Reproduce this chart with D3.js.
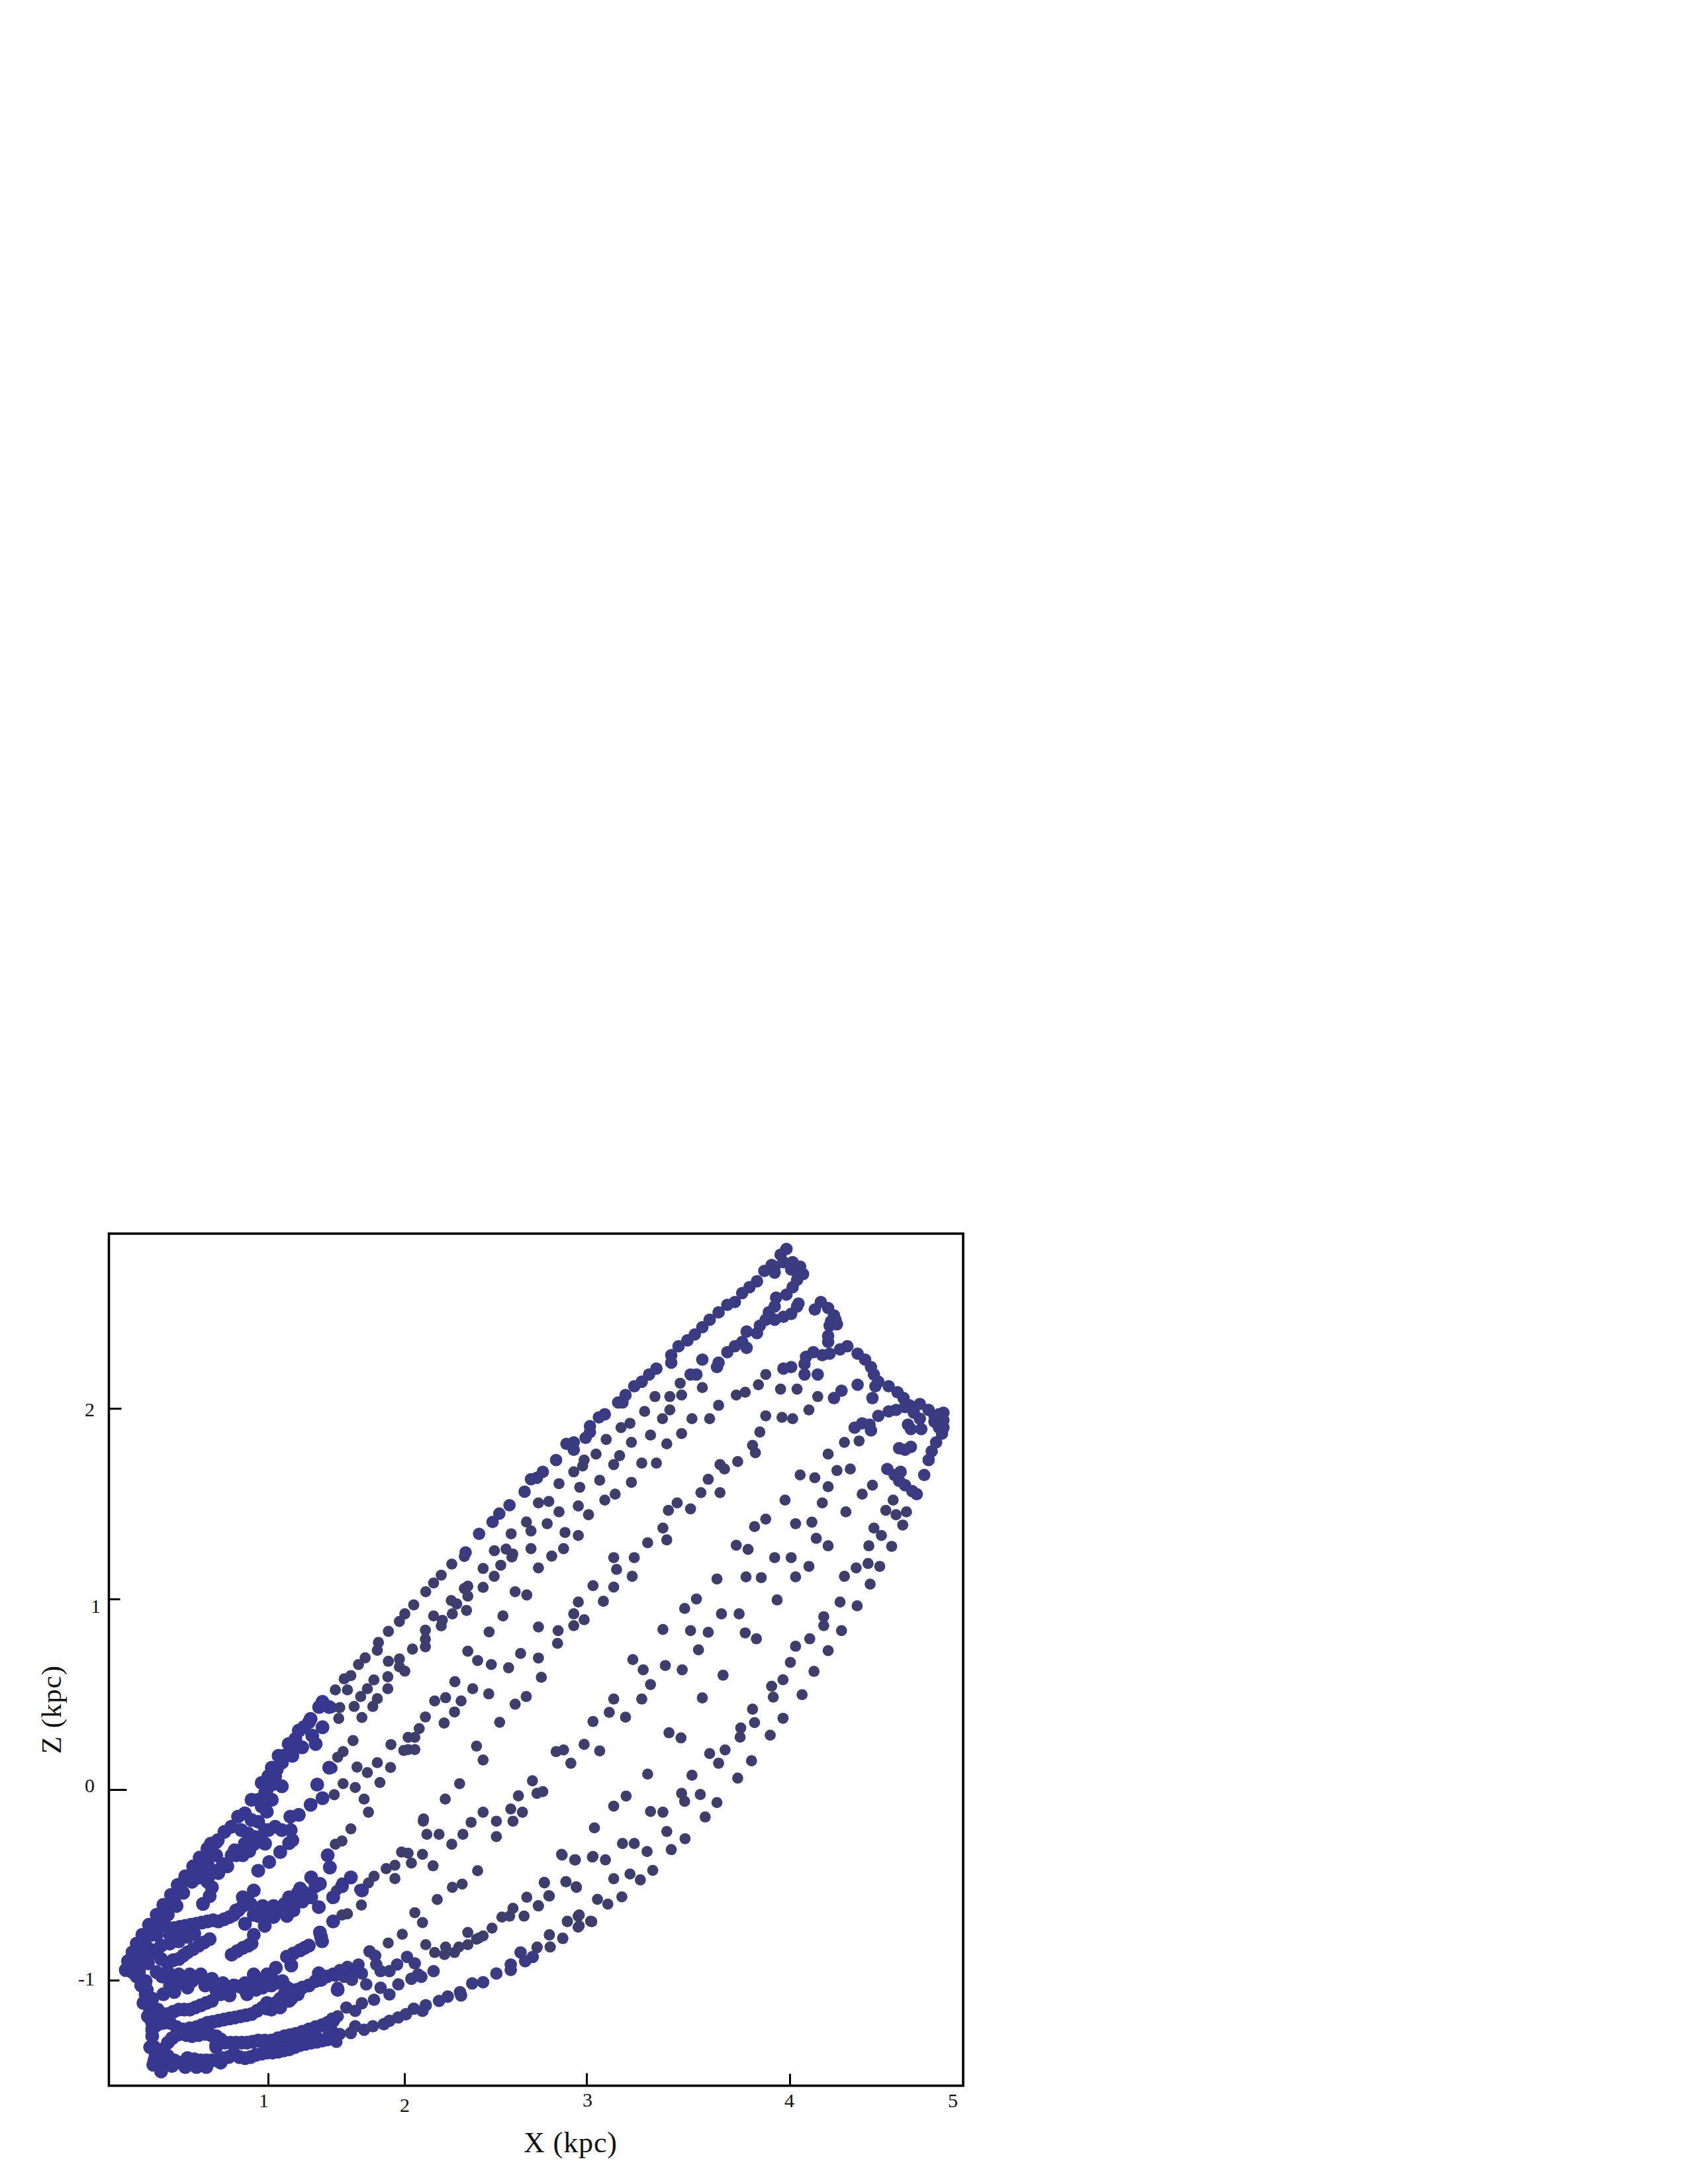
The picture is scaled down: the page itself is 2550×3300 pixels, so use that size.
<!DOCTYPE html>
<html><head><meta charset="utf-8">
<style>html,body{margin:0;padding:0;background:#fff}svg{display:block}text{font-family:"Liberation Serif",serif;fill:#111}</style>
<script src="https://cdn.jsdelivr.net/npm/d3@7"></script></head>
<body><svg id="c" width="2550" height="3300"></svg>
<script>
// ---- data: X and Z in kpc ----
const xKnots=[0,1,2,3,4,5,5.065];
const xTicks=[1,2,3,4,5];
const zTicks=[2,1,0,-1];
const xTitle="X (kpc)", zTitle="Z (kpc)";

const upperEdge=[[3.984,2.837],[3.955,2.806],[3.911,2.752],[3.875,2.721],[3.839,2.667],[3.802,2.636],[3.766,2.605],[3.730,2.558],[3.693,2.543],[3.650,2.504],[3.606,2.465],[3.570,2.426],[3.533,2.388],[3.497,2.357],[3.453,2.326],[3.417,2.279],[3.417,2.240],[3.344,2.209],[3.308,2.178],[3.272,2.140],[3.235,2.116],[3.192,2.070],[3.156,2.031],[3.177,2.031],[3.090,1.969],[3.061,1.953],[3.017,1.907],[3.017,1.876],[2.995,1.845],[2.930,1.822],[2.890,1.814],[2.930,1.783],[2.833,1.729],[2.760,1.667],[2.728,1.636],[2.695,1.628],[2.660,1.563],[2.577,1.492],[2.521,1.448],[2.484,1.404],[2.410,1.342],[2.336,1.244]];
const hookOne=[[3.926,2.744],[3.969,2.767],[4.018,2.767],[4.064,2.744],[4.082,2.705],[4.045,2.674],[4.018,2.636],[3.984,2.597],[3.933,2.581],[3.926,2.535],[3.897,2.504],[3.882,2.465],[3.926,2.465],[3.969,2.481],[4.009,2.496],[4.045,2.535],[4.054,2.550],[3.853,2.434],[3.839,2.395],[3.788,2.403],[3.766,2.349],[3.788,2.318],[3.730,2.326],[3.693,2.295],[3.650,2.240],[3.642,2.217],[3.570,2.256],[3.541,2.178],[3.512,2.178],[4.009,2.729],[4.045,2.713],[3.926,2.713]];
const hookTwo=[[4.191,2.558],[4.154,2.519],[4.236,2.527],[4.272,2.488],[4.290,2.442],[4.245,2.434],[4.236,2.380],[4.236,2.349],[4.354,2.326],[4.309,2.310],[4.245,2.287],[4.200,2.279],[4.145,2.295],[4.100,2.271],[4.091,2.233],[4.091,2.178],[4.172,2.178],[4.009,2.217],[3.969,2.209],[4.254,2.457],[4.281,2.465]];
const hookThree=[[4.417,2.287],[4.463,2.256],[4.499,2.217],[4.517,2.178],[4.526,2.116],[4.508,2.054],[4.544,2.140],[4.608,2.116],[4.662,2.085],[4.699,2.054],[4.735,2.016],[4.799,2.023],[4.853,1.992],[4.917,1.969],[4.944,1.938],[4.917,1.899],[4.935,1.868],[4.899,1.822],[4.872,1.775],[4.853,1.729],[4.826,1.651],[4.889,1.930],[4.944,1.977],[4.917,1.930],[4.653,1.992],[4.608,1.984],[4.708,2.008],[4.762,1.977],[4.726,1.915],[4.799,1.946],[4.808,1.891],[4.744,1.891],[4.708,1.783],[4.672,1.791],[4.744,1.798],[4.544,1.961],[4.490,1.915],[4.445,1.922],[4.399,1.899],[4.499,1.884],[4.417,2.124],[4.318,2.093],[4.272,2.054],[4.599,1.682],[4.644,1.651],[4.672,1.620],[4.708,1.597],[4.753,1.566],[4.780,1.550],[4.681,1.667],[4.889,1.961],[4.944,1.899]];
const rightCloud=[[4.336,1.822],[4.426,1.829],[4.236,1.760],[4.290,1.674],[4.372,1.682],[4.154,1.636],[4.064,1.651],[4.236,1.589],[4.200,1.504],[3.977,1.519],[4.345,1.457],[4.508,1.597],[4.445,1.550],[4.635,1.519],[4.590,1.465],[4.653,1.442],[4.717,1.457],[4.694,1.388],[4.517,1.372],[4.563,1.333],[4.486,1.279],[4.626,1.276],[4.408,1.163],[4.481,1.186],[4.553,1.171],[4.336,1.119],[4.494,1.078],[4.309,0.984],[4.414,0.964],[4.209,0.907],[4.209,0.860],[4.318,0.834],[4.123,0.791],[4.036,0.752],[4.236,0.729],[4.004,0.667],[4.149,0.620]];
const midChain=[[4.172,2.062],[4.118,1.992],[4.045,2.101],[3.955,2.101],[4.018,1.946],[3.962,1.953],[3.882,1.961],[3.853,1.876],[3.817,1.806],[3.831,1.767],[3.744,1.721],[3.657,1.705],[3.679,1.682],[3.599,1.628],[3.563,1.558],[3.657,1.558],[3.512,1.473],[3.446,1.504],[3.403,1.465],[3.376,1.372],[3.395,1.310],[3.301,1.295],[3.235,1.217],[3.134,1.217],[3.148,1.155],[3.225,1.119],[3.032,1.070],[3.134,1.062],[2.955,0.984],[3.083,0.988],[2.930,0.922],[2.987,0.891],[2.930,0.860],[2.736,0.853],[2.844,0.834],[2.841,0.767],[2.736,0.690],[2.752,0.589]];
const upperCloud=[[3.882,2.178],[3.846,2.124],[3.781,2.085],[3.737,2.070],[3.650,2.016],[3.606,1.946],[3.519,1.946],[3.468,1.868],[3.395,1.814],[3.410,1.992],[3.374,1.946],[3.315,1.860],[3.272,1.713],[3.344,1.713],[3.221,1.612],[3.141,1.550],[3.090,1.519],[3.286,1.984],[3.337,2.062],[3.410,2.062],[3.468,2.070],[3.570,2.109],[3.461,2.132],[3.214,1.922],[3.170,1.899],[3.097,1.837],[3.221,1.822],[3.047,1.760],[3.163,1.752],[3.134,1.705],[2.987,1.729],[2.979,1.698],[2.930,1.667],[3.065,1.623],[2.963,1.586],[2.849,1.605],[2.793,1.512],[2.736,1.504],[2.849,1.457],[2.955,1.488],[3.010,1.442],[2.784,1.395],[2.882,1.349],[2.955,1.333],[2.695,1.357],[2.874,1.264],[2.809,1.225],[2.695,1.264],[2.736,1.163],[2.670,1.404],[2.586,1.342],[2.494,1.253],[2.558,1.262],[2.595,1.236]];
const lowerCloudA=[[3.882,1.419],[3.827,1.380],[4.036,1.395],[4.136,1.403],[4.163,1.318],[4.236,1.279],[3.737,1.282],[3.795,1.260],[3.926,1.217],[4.009,1.217],[4.118,1.171],[4.036,1.116],[3.785,1.116],[3.860,1.112],[3.642,1.105],[3.541,1.000],[3.483,0.950],[3.938,0.995],[3.664,0.922],[3.751,0.922],[3.376,0.840],[3.512,0.834],[3.599,0.825],[3.781,0.822],[3.836,0.791],[3.551,0.733],[3.228,0.682],[3.279,0.628],[3.388,0.651],[3.471,0.628],[3.672,0.600]];
const lowerCloudB=[[3.315,0.551],[3.272,0.475],[3.134,0.475],[3.112,0.405],[3.192,0.380],[3.032,0.357],[3.570,0.481],[3.406,0.298],[3.465,0.271],[2.987,0.237],[3.065,0.203],[2.833,0.199],[2.874,0.208],[2.914,0.138],[2.703,0.046],[2.760,-0.011],[2.728,-0.020],[3.817,0.422],[3.827,0.351],[3.759,0.323],[3.756,0.275],[3.904,0.285],[3.967,0.374],[4.076,0.498],[3.911,0.542],[3.919,0.485],[3.967,0.576],[3.682,0.208],[3.606,0.189],[3.650,0.138],[3.812,0.151],[3.744,0.060],[3.519,0.075],[3.301,0.081],[3.195,-0.034],[3.134,-0.087],[3.315,-0.115],[3.376,-0.119],[3.468,-0.020],[3.483,-0.062],[3.560,-0.026],[3.642,-0.068],[3.584,-0.144],[3.039,-0.201],[3.395,-0.220],[3.485,-0.258],[3.417,-0.315],[3.177,-0.283],[3.235,-0.283],[3.298,-0.325],[2.866,-0.344],[2.939,-0.369],[3.029,-0.354],[3.093,-0.369],[3.326,-0.424],[3.214,-0.443],[3.265,-0.474],[3.134,-0.468],[2.768,-0.487],[2.887,-0.483],[2.943,-0.510],[2.793,-0.557],[2.736,-0.611],[3.174,-0.563],[3.054,-0.576],[3.105,-0.601],[2.895,-0.691],[2.960,-0.658],[2.960,-0.715],[3.020,-0.691],[2.796,-0.763],[2.870,-0.782],[2.801,-0.826],[2.728,-0.830],[2.703,-0.877]];
const centreCloud=[[2.260,1.183],[2.329,1.223],[2.202,1.125],[2.160,1.084],[2.117,1.038],[2.051,0.969],[2.002,0.922],[1.963,0.882],[1.882,0.830],[1.809,0.772],[1.801,0.731],[1.712,0.691],[1.663,0.656],[1.607,0.598],[1.558,0.581],[1.493,0.523],[1.582,0.523],[2.432,1.160],[2.529,1.177],[2.493,1.119],[2.590,1.220],[2.348,1.067],[2.432,1.061],[2.329,1.055],[2.348,1.015],[2.608,1.038],[2.672,1.021],[2.257,0.992],[2.287,0.974],[2.341,0.940],[2.263,0.922],[2.160,0.911],[2.208,0.888],[2.202,0.859],[2.115,0.836],[2.115,0.789],[2.115,0.749],[2.044,0.737],[1.882,0.673],[1.963,0.685],[1.963,0.644],[2.002,0.621],[2.541,0.911],[2.465,0.827],[2.348,0.726],[2.402,0.677],[2.477,0.656],[2.572,0.639],[2.638,0.714],[1.776,0.575],[1.878,0.592],[1.878,0.529],[1.728,0.529],[1.679,0.488],[1.801,0.477],[1.768,0.436],[1.631,0.436],[1.526,0.430],[1.469,0.430],[1.518,0.373],[1.688,0.378],[2.277,0.566],[2.375,0.529],[2.463,0.502],[2.669,0.488],[2.608,0.448],[2.311,0.465],[2.226,0.482],[2.166,0.465],[2.275,0.407],[2.115,0.381],[2.081,0.320],[2.218,0.349],[2.523,0.353],[2.020,0.274],[2.057,0.274],[2.020,0.210],[2.057,0.210],[1.995,0.205],[1.901,0.236],[2.396,0.228],[2.432,0.155],[1.623,0.257],[1.550,0.199],[1.510,0.170],[1.469,0.112],[1.652,0.118],[1.728,0.089],[1.801,0.141],[1.898,0.116],[1.820,0.037],[1.550,0.031],[1.639,0.011],[1.485,-0.027],[1.704,-0.050],[1.736,-0.119],[2.303,0.031],[2.224,-0.050],[2.626,-0.033],[2.584,-0.102],[2.648,-0.119],[2.432,-0.119],[2.105,-0.154]];
const lowerStreaks=[[2.103,-0.166],[2.505,-0.166],[2.596,-0.166],[2.366,-0.172],[1.607,-0.206],[2.123,-0.235],[2.190,-0.235],[2.321,-0.235],[2.505,-0.247],[2.260,-0.287],[1.542,-0.270],[1.493,-0.287],[1.979,-0.328],[2.020,-0.334],[2.099,-0.340],[2.038,-0.386],[2.157,-0.400],[1.930,-0.397],[1.866,-0.415],[1.777,-0.455],[1.930,-0.467],[1.736,-0.490],[1.671,-0.525],[1.607,-0.461],[1.542,-0.490],[1.501,-0.531],[1.469,-0.565],[1.684,-0.606],[1.582,-0.652],[1.542,-0.658],[1.485,-0.693],[2.402,-0.426],[2.317,-0.496],[2.263,-0.513],[2.180,-0.577],[2.057,-0.646],[2.099,-0.698],[1.984,-0.759],[1.881,-0.805],[2.348,-0.750],[2.481,-0.727],[2.432,-0.768],[2.396,-0.785],[2.535,-0.669],[2.578,-0.664],[2.596,-0.623],[2.657,-0.664],[2.672,-0.565],[2.735,-0.609],[2.796,-0.559],[2.769,-0.490],[2.887,-0.484],[2.945,-0.513],[2.863,-0.340],[2.935,-0.369],[3.032,-0.351],[2.117,-0.814],[2.166,-0.855],[2.220,-0.866],[2.275,-0.855],[2.226,-0.826],[2.299,-0.826],[2.348,-0.814],[2.408,-0.779],[2.895,-0.693],[2.954,-0.664],[2.954,-0.722],[3.026,-0.693],[2.796,-0.762],[2.869,-0.779],[2.800,-0.826],[2.729,-0.826]];
const lowerEdge=[[2.705,-0.878],[2.638,-0.855],[2.663,-0.901],[2.584,-0.918],[2.584,-0.947],[2.505,-0.965],[2.432,-1.011],[2.372,-1.017],[2.305,-1.063],[2.311,-1.080],[2.238,-1.086],[2.190,-1.109],[2.117,-1.132],[2.099,-1.161],[2.051,-1.150],[2.008,-1.179],[1.954,-1.196],[1.890,-1.213],[1.849,-1.231],[1.768,-1.242],[1.704,-1.260],[1.639,-1.242],[1.607,-1.277],[1.526,-1.283],[1.485,-1.300],[1.501,-1.323],[1.469,-1.265]];
const crossStreak=[[1.744,-0.849],[1.785,-0.872],[1.793,-0.918],[1.825,-0.953],[1.890,-0.953],[1.946,-0.918],[2.014,-0.878],[2.057,-0.912],[2.075,-0.970],[2.038,-0.993],[2.093,-0.982],[2.160,-0.953],[1.955,-1.022],[1.663,-0.918],[1.582,-0.930],[1.526,-0.947],[1.623,-0.965],[1.688,-0.965],[1.493,-0.976],[1.558,-0.982],[1.720,-1.022],[1.615,-0.999],[1.510,-1.040],[1.825,-1.040],[1.890,-1.075],[1.777,-1.103],[1.688,-1.121],[1.574,-1.144],[1.639,-1.161],[1.510,-1.190],[1.469,-1.202]];
const fanEdge=[[0.106,-0.947],[0.120,-0.900],[0.148,-0.854],[0.175,-0.808],[0.210,-0.762],[0.252,-0.709],[0.300,-0.657],[0.342,-0.605],[0.390,-0.553],[0.432,-0.501],[0.480,-0.455],[0.529,-0.403],[0.570,-0.357],[0.619,-0.310],[0.674,-0.276],[0.641,-0.284],[0.726,-0.222],[0.811,-0.142],[0.896,-0.054],[0.960,0.035],[1.027,0.115],[1.077,0.177],[1.151,0.239],[1.225,0.309],[1.312,0.371],[1.399,0.460],[1.002,0.070],[0.992,0.000],[0.938,-0.054],[0.854,-0.125],[0.769,-0.195],[0.684,-0.266],[1.064,0.106],[1.114,0.177],[1.200,0.265],[1.300,0.354],[1.374,0.433]];
const fanInner=[[0.162,-0.912],[0.217,-0.889],[0.231,-0.819],[0.300,-0.762],[0.286,-0.715],[0.356,-0.715],[0.370,-0.657],[0.425,-0.611],[0.467,-0.542],[0.522,-0.484],[0.577,-0.449],[0.633,-0.449],[0.688,-0.438],[0.744,-0.403],[0.799,-0.345],[0.855,-0.310],[0.910,-0.287],[0.619,-0.391],[0.674,-0.345],[0.771,-0.345],[0.591,-0.600],[0.633,-0.559],[0.647,-0.513],[1.448,0.433],[1.262,0.327],[1.399,0.327],[1.324,0.283],[1.250,0.221],[1.349,0.239],[1.178,0.230],[1.178,0.177],[1.101,0.141],[1.052,0.070],[1.027,0.026],[1.101,0.017],[0.981,-0.018],[1.027,-0.054],[0.960,-0.089],[0.992,-0.116],[0.938,-0.169],[1.002,-0.213],[1.101,-0.213],[1.178,-0.266],[1.166,-0.213],[0.875,-0.231],[0.938,-0.266],[0.981,-0.284]];
const fanInnerFill=[[0.162,-0.877],[0.203,-0.843],[0.189,-0.958],[0.245,-0.912],[0.272,-0.843],[0.272,-0.762],[0.328,-0.819],[0.383,-0.808],[0.439,-0.796],[0.494,-0.773],[0.328,-0.889],[0.328,-0.681],[0.383,-0.611],[0.411,-0.588],[0.453,-0.495],[0.501,-0.461],[0.550,-0.426],[0.591,-0.403],[0.564,-0.461],[0.619,-0.484],[0.674,-0.426],[0.716,-0.391],[0.647,-0.333],[0.605,-0.357],[0.841,-0.345],[0.882,-0.322],[0.832,-0.213],[0.896,-0.160],[1.052,-0.195],[0.981,-0.213],[0.854,-0.284],[0.790,-0.319],[0.917,-0.249]];
const fanBandC=[[0.411,-0.727],[0.480,-0.715],[0.550,-0.704],[0.619,-0.692],[0.688,-0.692],[0.758,-0.669],[0.813,-0.634],[0.869,-0.576],[0.910,-0.530],[0.841,-0.565],[0.799,-0.634],[0.855,-0.704],[0.910,-0.657],[0.966,-0.611],[1.040,-0.611],[1.121,-0.600],[1.186,-0.634],[1.138,-0.663],[1.040,-0.669],[0.979,-0.715],[0.938,-0.663],[1.235,-0.519],[1.316,-0.461],[1.348,-0.507],[1.251,-0.588],[1.218,-0.542],[1.154,-0.565],[1.380,-0.495],[1.316,-0.565],[1.372,-0.617],[1.477,-0.565],[1.542,-0.507],[1.607,-0.461],[1.688,-0.530],[0.938,-0.426],[1.008,-0.380],[1.089,-0.328],[0.966,-0.276],[1.154,-0.281],[1.437,-0.345],[1.453,-0.409],[1.360,0.026],[1.399,-0.045],[1.312,-0.080],[1.225,-0.133],[1.163,-0.142],[1.448,0.115],[0.446,-0.721],[0.515,-0.709],[0.584,-0.698],[0.654,-0.686],[0.723,-0.681],[0.785,-0.657],[0.841,-0.611],[0.889,-0.600],[0.993,-0.646],[1.089,-0.634],[1.170,-0.611],[1.202,-0.576],[1.267,-0.542]];
const fanBandD=[[0.384,-0.762],[0.467,-0.762],[0.536,-0.756],[0.370,-0.912],[0.439,-0.889],[0.494,-0.854],[0.564,-0.819],[0.633,-0.785],[0.771,-0.866],[0.841,-0.831],[0.896,-0.808],[0.910,-0.762],[1.138,-0.877],[1.235,-0.843],[1.299,-0.819],[1.380,-0.750],[1.396,-0.796],[1.170,-0.923],[1.477,-0.692],[0.404,-0.895],[0.467,-0.871],[0.529,-0.837],[0.598,-0.802],[0.806,-0.848],[0.875,-0.819],[1.186,-0.860],[1.267,-0.831],[1.388,-0.773]];
const fanBandE=[[0.148,-0.958],[0.203,-0.912],[0.245,-0.877],[0.175,-0.981],[0.231,-1.005],[0.300,-0.958],[0.370,-0.958],[0.439,-0.970],[0.508,-0.970],[0.577,-0.970],[0.647,-0.993],[0.716,-1.016],[0.785,-1.028],[0.855,-1.016],[0.924,-1.005],[0.993,-0.970],[1.057,-0.935],[0.910,-0.970],[1.089,-1.016],[1.170,-1.051],[1.251,-1.039],[1.348,-1.005],[1.429,-0.981],[0.384,-1.028],[0.453,-1.016],[0.522,-1.005],[0.605,-1.028],[0.674,-1.051],[0.758,-1.051],[0.855,-1.051],[0.966,-1.039],[1.024,-1.028],[1.121,-1.074],[1.218,-1.074],[1.105,-1.005],[1.372,-0.964],[1.510,-1.051],[0.203,-1.028],[0.231,-1.074],[0.217,-1.120],[0.259,-1.166],[0.273,-1.097],[0.342,-1.074],[0.411,-1.062],[0.494,-1.039],[0.335,-0.981],[0.404,-0.993],[0.474,-0.993],[0.543,-0.987],[0.619,-1.016],[0.688,-1.028],[0.820,-1.033],[0.889,-1.033],[0.966,-1.005],[1.024,-0.981],[1.138,-1.039],[1.210,-1.051],[1.299,-1.028],[1.389,-0.999],[1.477,-0.970],[1.574,-0.958],[1.655,-0.947],[1.170,-1.097],[1.089,-1.097],[0.411,-1.028],[0.716,-1.051],[0.924,-1.051],[0.238,-1.051],[0.252,-1.132],[0.259,-1.201],[0.300,-1.236],[0.307,-1.155],[0.272,-1.259],[0.342,-1.224]];
const fanBandG=[[0.300,-1.178],[0.370,-1.178],[0.439,-1.155],[0.508,-1.155],[0.577,-1.132],[0.647,-1.109],[0.702,-1.074],[0.758,-1.080],[0.868,-1.074],[0.272,-1.224],[0.384,-1.224],[0.467,-1.259],[0.550,-1.247],[0.619,-1.224],[0.688,-1.213],[0.758,-1.201],[0.827,-1.190],[0.896,-1.178],[0.966,-1.143],[1.024,-1.155],[1.057,-1.120],[0.993,-1.120],[1.154,-1.109],[0.335,-1.178],[0.404,-1.166],[0.474,-1.155],[0.543,-1.143],[0.612,-1.120],[0.328,-1.224],[0.425,-1.247],[0.508,-1.253],[0.584,-1.236],[0.654,-1.219],[0.723,-1.207],[0.792,-1.196],[0.862,-1.184],[0.931,-1.161],[1.089,-1.143],[0.993,-1.149]];
const fanBottom=[[0.272,-1.294],[0.286,-1.352],[0.293,-1.398],[0.279,-1.444],[0.328,-1.479],[0.259,-1.352],[0.245,-1.190],[0.342,-1.363],[0.397,-1.305],[0.453,-1.282],[0.522,-1.294],[0.605,-1.282],[0.674,-1.294],[0.730,-1.328],[0.799,-1.328],[0.868,-1.328],[0.938,-1.317],[1.024,-1.317],[1.121,-1.294],[1.202,-1.282],[1.299,-1.259],[1.396,-1.236],[1.477,-1.213],[0.674,-1.340],[1.154,-1.317],[1.251,-1.305],[1.348,-1.294],[1.445,-1.259],[0.342,-1.421],[0.411,-1.421],[0.494,-1.409],[0.577,-1.421],[0.647,-1.421],[0.716,-1.409],[0.785,-1.386],[0.855,-1.409],[0.924,-1.392],[0.993,-1.380],[1.073,-1.375],[1.154,-1.363],[1.235,-1.340],[1.316,-1.328],[1.396,-1.317],[0.397,-1.450],[0.480,-1.456],[0.550,-1.456],[0.612,-1.456],[0.702,-1.433],[1.494,-1.300]];
const fanBottomFill=[[0.370,-1.328],[0.425,-1.288],[0.487,-1.288],[0.564,-1.288],[0.640,-1.288],[0.702,-1.311],[0.764,-1.328],[0.834,-1.328],[0.903,-1.323],[0.979,-1.317],[1.073,-1.305],[1.162,-1.288],[1.251,-1.271],[1.348,-1.247],[1.437,-1.224],[0.370,-1.398],[0.376,-1.433],[0.453,-1.433],[0.536,-1.415],[0.612,-1.421],[0.681,-1.421],[0.751,-1.404],[0.820,-1.404],[0.889,-1.404],[0.959,-1.386],[1.032,-1.380],[1.113,-1.369],[1.194,-1.352],[1.275,-1.334],[1.356,-1.323],[1.437,-1.311],[1.154,-1.340],[1.235,-1.311],[0.328,-1.433],[0.286,-1.421],[0.674,-1.352]];

const denseGroups=[fanEdge,fanInner,fanInnerFill,fanBandC,fanBandD,fanBandE,fanBandG,fanBottom,fanBottomFill];
const brightGroups=[upperEdge,hookOne,hookTwo,hookThree,crossStreak,lowerEdge];
const sparseGroups=[rightCloud,midChain,upperCloud,lowerCloudA,lowerCloudB,centreCloud,lowerStreaks];

// ---- scales ----
const x=d3.scaleLinear().domain(xKnots).range([164.5,405,611,886,1193,1439,1455]);
const z=d3.scaleLinear().domain([-1.554,2.917]).range([3151.5,1864]);
const svg=d3.select("#c");

const plot=(groups,color,r)=>svg.append("g").attr("fill",color).selectAll("g").data(groups).join("g")
  .selectAll("circle").data(d=>d).join("circle")
  .attr("cx",d=>x(d[0])).attr("cy",d=>z(d[1])).attr("r",r);
plot(sparseGroups,"#3e3e6c",8.4);
plot(brightGroups,"#3b3b82",9.4);
plot(denseGroups,"#373790",10.5);

// ---- frame and axes ----
svg.append("rect").attr("x",x(0)).attr("y",z(2.917)).attr("width",x(5.065)-x(0)).attr("height",z(-1.554)-z(2.917))
  .attr("fill","none").attr("stroke","#000").attr("stroke-width",3.6);

const xLen=[19,19,19,18,0], xLabelDx=[-7,0,1,-1,0], xLabelY=[3184,3191,3183,3184,3184];
const gx=svg.append("g").attr("transform",`translate(0,${z(-1.554)})`)
  .call(d3.axisBottom(x).tickValues(xTicks).tickSize(0).tickFormat(d3.format("d")));
gx.select(".domain").remove();
gx.selectAll(".tick line").attr("y2",(d,i)=>-xLen[i]).attr("stroke","#000").attr("stroke-width",3);
gx.selectAll(".tick text").attr("font-size",30).attr("text-anchor","middle").attr("font-family",null)
  .attr("x",(d,i)=>xLabelDx[i]).attr("dy",null).attr("y",(d,i)=>xLabelY[i]-z(-1.554));

const zLen=[19,17,27,16], zLabelX=[135,144,135,135], zLabelDy=[11,20,4,8];
const gz=svg.append("g").attr("transform",`translate(${x(0)},0)`)
  .call(d3.axisLeft(z).tickValues(zTicks).tickSize(0).tickFormat(d=>d<0?"-"+Math.abs(d):d));
gz.select(".domain").remove();
gz.selectAll(".tick line").attr("x2",(d,i)=>zLen[i]).attr("stroke","#000").attr("stroke-width",3);
gz.selectAll(".tick text").attr("font-size",30).attr("text-anchor","end").attr("font-family",null)
  .attr("x",(d,i)=>zLabelX[i]+8-x(0)).attr("dy",null).attr("y",(d,i)=>zLabelDy[i]);

svg.append("text").attr("x",791).attr("y",3252).attr("font-size",44).attr("textLength",141).text(xTitle);
svg.append("text").attr("transform","translate(92,2650) rotate(-90)").attr("font-size",43).attr("textLength",133).text(zTitle);
</script></body></html>
